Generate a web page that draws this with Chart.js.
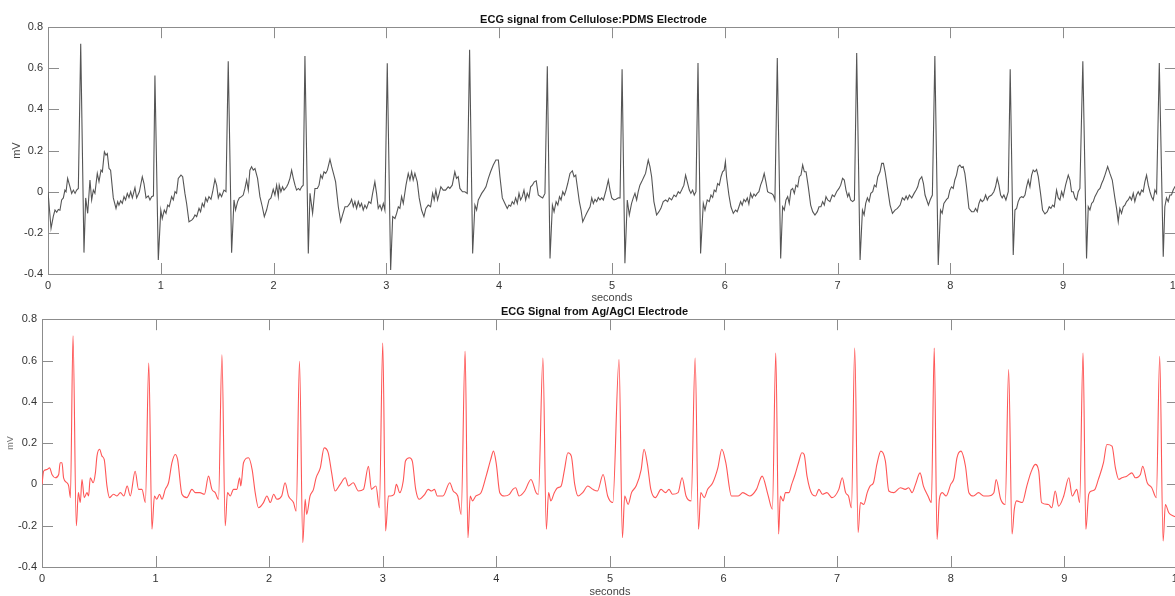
<!DOCTYPE html>
<html>
<head>
<meta charset="utf-8">
<script src="https://cdn.jsdelivr.net/npm/chart.js@4.4.1/dist/chart.umd.min.js"></script>
<style>
    html, body { margin: 0; padding: 0; background: #fff; width: 1175px; height: 596px; overflow: hidden; }
    #c1 { position: absolute; left: 0; top: 0; }
    #c2 { position: absolute; left: 0; top: 300px; }
</style>
</head>
<body>
<canvas id="c1" width="1187" height="305"></canvas>
<canvas id="c2" width="1189" height="300"></canvas>
<script>
// valores (segundos / mV)
var tempoCel = [
    0, 0.027, 0.047, 0.062, 0.077, 0.092, 0.106, 0.121, 0.136, 0.15,
    0.16, 0.174, 0.195, 0.21, 0.225, 0.24, 0.254, 0.269, 0.29, 0.319,
    0.334, 0.352, 0.372, 0.387, 0.402, 0.416, 0.437, 0.452, 0.47, 0.482,
    0.5, 0.514, 0.526, 0.541, 0.555, 0.579, 0.603, 0.618, 0.629, 0.644,
    0.659, 0.674, 0.688, 0.703, 0.718, 0.733, 0.748, 0.771, 0.786, 0.81,
    0.836, 0.851, 0.869, 0.889, 0.904, 0.919, 0.935, 0.948, 0.978, 1.0,
    1.013, 1.031, 1.046, 1.061, 1.075, 1.096, 1.111, 1.126, 1.14, 1.155,
    1.179, 1.194, 1.214, 1.229, 1.25, 1.274, 1.288, 1.303, 1.318, 1.339,
    1.353, 1.368, 1.383, 1.398, 1.412, 1.427, 1.445, 1.46, 1.48, 1.495,
    1.51, 1.524, 1.539, 1.56, 1.578, 1.598, 1.628, 1.649, 1.663, 1.681,
    1.696, 1.716, 1.731, 1.746, 1.761, 1.776, 1.79, 1.805, 1.82, 1.835,
    1.858, 1.879, 1.9, 1.918, 1.938, 1.959, 1.977, 1.997, 2.012, 2.027,
    2.042, 2.05, 2.065, 2.08, 2.092, 2.116, 2.13, 2.145, 2.16, 2.175,
    2.19, 2.204, 2.22, 2.234, 2.249, 2.263, 2.278, 2.308, 2.323, 2.346,
    2.367, 2.388, 2.403, 2.418, 2.432, 2.447, 2.462, 2.477, 2.5, 2.515,
    2.535, 2.55, 2.574, 2.595, 2.612, 2.633, 2.654, 2.677, 2.692, 2.707,
    2.721, 2.736, 2.751, 2.766, 2.78, 2.795, 2.81, 2.825, 2.845, 2.863,
    2.878, 2.898, 2.913, 2.928, 2.943, 2.958, 2.973, 2.987, 3.008, 3.038,
    3.056, 3.076, 3.091, 3.106, 3.12, 3.135, 3.15, 3.174, 3.194, 3.209,
    3.224, 3.238, 3.253, 3.274, 3.291, 3.312, 3.333, 3.35, 3.371, 3.392,
    3.41, 3.424, 3.439, 3.454, 3.469, 3.483, 3.504, 3.525, 3.548, 3.563,
    3.584, 3.607, 3.622, 3.637, 3.652, 3.675, 3.696, 3.717, 3.738, 3.765,
    3.785, 3.8, 3.815, 3.83, 3.845, 3.865, 3.883, 3.904, 3.924, 3.948,
    3.971, 3.993, 4.007, 4.028, 4.051, 4.072, 4.087, 4.102, 4.116, 4.131,
    4.146, 4.161, 4.176, 4.19, 4.205, 4.22, 4.235, 4.249, 4.264, 4.279,
    4.294, 4.311, 4.329, 4.347, 4.368, 4.386, 4.406, 4.427, 4.451, 4.472,
    4.487, 4.505, 4.52, 4.535, 4.549, 4.564, 4.579, 4.593, 4.608, 4.628,
    4.649, 4.664, 4.679, 4.693, 4.711, 4.726, 4.741, 4.762, 4.776, 4.791,
    4.806, 4.821, 4.835, 4.85, 4.865, 4.879, 4.894, 4.909, 4.924, 4.948,
    4.968, 4.983, 4.998, 5.018, 5.036, 5.057, 5.072, 5.09, 5.115, 5.136,
    5.154, 5.174, 5.189, 5.204, 5.219, 5.233, 5.248, 5.263, 5.284, 5.298,
    5.322, 5.337, 5.352, 5.372, 5.396, 5.417, 5.434, 5.455, 5.476, 5.494,
    5.508, 5.529, 5.55, 5.568, 5.588, 5.603, 5.618, 5.638, 5.653, 5.668,
    5.686, 5.7, 5.715, 5.73, 5.745, 5.763, 5.786, 5.81, 5.825, 5.845,
    5.863, 5.878, 5.893, 5.907, 5.922, 5.937, 5.952, 5.967, 5.981, 5.995,
    6.006, 6.016, 6.037, 6.055, 6.076, 6.096, 6.111, 6.126, 6.141, 6.155,
    6.17, 6.185, 6.2, 6.214, 6.229, 6.244, 6.259, 6.273, 6.288, 6.303,
    6.318, 6.335, 6.35, 6.365, 6.38, 6.395, 6.415, 6.43, 6.445, 6.466,
    6.496, 6.513, 6.528, 6.543, 6.558, 6.572, 6.587, 6.602, 6.617, 6.632,
    6.647, 6.661, 6.676, 6.691, 6.706, 6.721, 6.741, 6.762, 6.78, 6.8,
    6.821, 6.836, 6.853, 6.868, 6.883, 6.898, 6.913, 6.933, 6.954, 6.972,
    6.992, 7.013, 7.028, 7.045, 7.06, 7.075, 7.09, 7.101, 7.116, 7.134,
    7.15, 7.17, 7.2, 7.221, 7.236, 7.25, 7.265, 7.28, 7.295, 7.312,
    7.327, 7.342, 7.357, 7.377, 7.392, 7.407, 7.422, 7.446, 7.466, 7.487,
    7.51, 7.531, 7.555, 7.575, 7.593, 7.608, 7.622, 7.637, 7.658, 7.679,
    7.697, 7.711, 7.726, 7.747, 7.762, 7.776, 7.791, 7.806, 7.821, 7.841,
    7.863, 7.893, 7.913, 7.928, 7.943, 7.967, 7.981, 7.996, 8.011, 8.026,
    8.04, 8.055, 8.07, 8.085, 8.1, 8.114, 8.129, 8.144, 8.165, 8.189,
    8.209, 8.224, 8.239, 8.254, 8.268, 8.283, 8.298, 8.313, 8.328, 8.342,
    8.366, 8.386, 8.401, 8.416, 8.431, 8.446, 8.46, 8.475, 8.493, 8.514,
    8.531, 8.558, 8.573, 8.588, 8.602, 8.617, 8.632, 8.647, 8.662, 8.676,
    8.691, 8.706, 8.721, 8.735, 8.75, 8.765, 8.78, 8.8, 8.818, 8.839,
    8.86, 8.877, 8.892, 8.907, 8.922, 8.942, 8.957, 8.972, 8.987, 9.001,
    9.022, 9.046, 9.061, 9.075, 9.09, 9.105, 9.12, 9.134, 9.149, 9.175,
    9.208, 9.223, 9.238, 9.253, 9.267, 9.282, 9.297, 9.312, 9.327, 9.342,
    9.356, 9.371, 9.395, 9.415, 9.436, 9.459, 9.474, 9.489, 9.503, 9.518,
    9.533, 9.548, 9.563, 9.577, 9.592, 9.607, 9.622, 9.636, 9.651, 9.666,
    9.681, 9.696, 9.71, 9.725, 9.74, 9.755, 9.77, 9.784, 9.799, 9.814,
    9.829, 9.853, 9.888, 9.902, 9.917, 9.932, 9.947, 9.961, 9.976, 9.991,
    10];
var sinalCel = [
    0, -0.178, -0.12, -0.089, -0.1, -0.086, -0.09, -0.04, -0.03, 0.008,
    0, 0.065, 0.024, -0.008, 0.008, -0.008, 0.008, 0.016, 0.72, -0.296,
    -0.03, -0.105, 0.057, -0.04, 0.008, -0.008, 0.089, 0.049, 0.105, 0.097,
    0.194, 0.178, 0.186, 0.113, 0.105, -0.03, -0.081, -0.048, -0.065, -0.044,
    -0.057, -0.024, -0.04, -0.008, -0.028, 0, -0.03, 0.02, -0.03, 0,
    0.073, 0.04, -0.03, -0.02, -0.04, -0.024, -0.02, 0.565, -0.332, -0.089,
    -0.13, -0.089, -0.105, -0.065, -0.073, -0.024, -0.04, 0, -0.008, 0.065,
    0.081, 0.073, -0.008, -0.057, -0.146, -0.138, -0.13, -0.113, -0.121, -0.081,
    -0.097, -0.057, -0.073, -0.03, -0.048, -0.024, -0.037, 0, 0.06, 0.032,
    -0.03, -0.008, -0.024, 0.008, 0, 0.634, -0.297, -0.04, -0.089, -0.048,
    -0.03, -0.024, -0.016, 0.016, 0.057, 0.008, 0.105, 0.122, 0.105, 0.113,
    0.065, -0.024, -0.073, -0.121, -0.089, -0.04, -0.03, 0.012, -0.016, 0.032,
    -0.024, 0.032, 0, 0.024, 0.008, 0.024, 0.04, 0.065, 0.105, 0.065,
    0.032, 0.008, 0.016, 0.008, 0.024, 0.032, 0.66, -0.3, -0.008, -0.105,
    0.016, 0.016, 0.032, 0.081, 0.065, 0.097, 0.089, 0.105, 0.157, 0.122,
    0.081, 0.048, -0.073, -0.146, -0.113, -0.073, -0.073, -0.057, -0.037, -0.073,
    -0.048, -0.081, -0.048, -0.073, -0.057, -0.089, -0.065, -0.081, -0.048, -0.057,
    -0.008, 0.048, -0.008, -0.081, -0.065, -0.089, -0.057, -0.089, 0.625, -0.38,
    -0.121, -0.13, -0.105, -0.073, -0.081, -0.024, -0.057, 0.032, 0.089, 0.057,
    0.097, 0.057, 0.089, 0.048, -0.03, -0.089, -0.121, -0.081, -0.065, -0.073,
    -0.008, -0.04, 0.008, -0.04, -0.008, 0.024, 0.008, 0.008, 0.024, 0.016,
    0.032, 0.097, 0.065, 0.073, 0.016, 0, 0, -0.008, 0.69, -0.3,
    -0.065, -0.089, -0.04, -0.024, -0.008, 0.008, 0.024, 0.065, 0.097, 0.13,
    0.154, 0.154, 0.073, -0.03, -0.057, -0.081, -0.065, -0.07, -0.048, -0.06,
    -0.03, -0.057, -0.008, -0.04, -0.024, 0.008, -0.04, -0.008, -0.028, 0.024,
    0.032, 0.048, 0.053, -0.016, -0.024, -0.03, -0.008, 0.61, -0.324, -0.065,
    -0.097, -0.048, -0.065, -0.024, -0.04, 0, -0.016, 0.008, 0.04, 0.089,
    0.102, 0.073, 0.081, 0.024, -0.048, -0.089, -0.146, -0.121, -0.105, -0.089,
    -0.073, -0.03, -0.057, -0.037, -0.048, -0.028, -0.04, -0.03, -0.04, 0.008,
    0.057, 0.008, -0.03, -0.04, -0.037, -0.03, -0.03, 0.595, -0.348, -0.04,
    -0.113, -0.057, -0.03, -0.008, -0.04, 0, 0.032, 0.048, 0.073, 0.089,
    0.154, 0.122, 0.073, -0.048, -0.113, -0.097, -0.081, -0.048, -0.04, -0.048,
    -0.03, -0.04, -0.016, -0.024, 0, -0.008, 0.008, 0.032, 0.081, 0.048,
    0.008, -0.008, 0.008, -0.016, 0, 0.626, -0.3, -0.057, -0.089, -0.04,
    -0.048, -0.016, -0.028, 0.008, 0, 0.04, 0.032, 0.073, 0.097, 0.105,
    0.146, 0.073, -0.016, -0.073, -0.105, -0.089, -0.097, -0.073, -0.048, -0.065,
    -0.037, -0.048, -0.03, -0.06, -0.008, -0.03, -0.011, -0.021, -0.008, 0,
    0.032, 0.057, 0.089, 0.048, 0, -0.005, -0.008, -0.016, -0.04, 0.65,
    -0.324, -0.073, -0.089, -0.04, -0.024, -0.057, 0.008, 0.016, -0.008, 0.032,
    0.024, 0.073, 0.081, 0.13, 0.097, 0.097, 0.024, -0.065, -0.097, -0.113,
    -0.097, -0.073, -0.073, -0.048, -0.065, -0.024, -0.04, -0.048, -0.016, -0.024,
    0, 0.016, 0.032, 0.065, 0.057, 0.008, -0.024, -0.008, -0.04, -0.048,
    -0.04, 0.675, -0.332, -0.089, -0.113, -0.057, -0.03, -0.048, -0.008, 0,
    0.032, 0.024, 0.073, 0.097, 0.138, 0.138, 0.097, 0.008, -0.065, -0.105,
    -0.089, -0.081, -0.065, -0.03, -0.04, -0.021, -0.037, -0.016, -0.03, -0.008,
    0.008, 0.024, 0.057, 0.073, 0.04, -0.016, -0.04, -0.065, -0.04, -0.016,
    0.66, -0.356, -0.089, -0.105, -0.057, -0.037, -0.03, 0.008, 0.024, 0.016,
    0.057, 0.081, 0.122, 0.13, 0.118, 0.122, 0.089, 0.024, -0.081, -0.097,
    -0.097, -0.081, -0.097, -0.057, -0.037, -0.048, -0.04, -0.016, -0.04, -0.024,
    -0.016, 0, 0.024, 0.065, 0.032, -0.016, -0.03, -0.016, -0.04, 0,
    0.595, -0.308, -0.089, -0.081, -0.048, -0.03, -0.024, -0.028, -0.016, 0.024,
    0.057, 0.024, 0.081, 0.105, 0.097, 0.108, 0.073, -0.008, -0.089, -0.108,
    -0.097, -0.073, -0.081, -0.065, -0.073, 0.008, -0.03, -0.04, 0, -0.024,
    0.032, 0.081, 0.057, 0, 0, -0.03, -0.04, 0, 0.016, 0.634,
    -0.324, -0.073, -0.089, -0.057, -0.048, -0.024, -0.008, 0.008, 0.016, 0.04,
    0.057, 0.081, 0.122, 0.089, 0.057, -0.03, -0.081, -0.146, -0.081, -0.105,
    -0.073, -0.065, -0.048, -0.04, -0.024, -0.04, -0.008, -0.048, -0.016, 0,
    -0.016, 0.008, 0, 0.048, 0.081, 0.032, 0, -0.024, -0.04, 0.008,
    -0.008, 0.626, -0.316, -0.073, -0.03, -0.048, -0.016, -0.016, 0.008, 0.024,
    0.02];

var tempoAg = [0, 0.015, 0.044, 0.067, 0.088, 0.117, 0.147, 0.16, 0.176, 0.19, 0.22, 0.235, 0.25, 0.273, 0.302, 0.32, 0.337, 0.352, 0.372, 0.396,
    0.41, 0.425, 0.45, 0.47, 0.484, 0.507, 0.528, 0.548, 0.572, 0.595, 0.63, 0.66, 0.69, 0.72, 0.75, 0.777, 0.82, 0.85, 0.88, 0.91,
    0.94, 0.968, 0.99, 1.01, 1.035, 1.056, 1.085, 1.114, 1.144, 1.173, 1.194, 1.232, 1.275, 1.32, 1.35, 1.39, 1.43, 1.466, 1.496, 1.525,
    1.554, 1.584, 1.613, 1.633, 1.657, 1.686, 1.715, 1.74, 1.75, 1.774, 1.818, 1.85, 1.877, 1.906, 1.95, 1.98, 2.01, 2.04, 2.067, 2.11,
    2.14, 2.17, 2.214, 2.238, 2.267, 2.296, 2.317, 2.33, 2.36, 2.39, 2.413, 2.45, 2.484, 2.52, 2.55, 2.58, 2.625, 2.67, 2.698, 2.74,
    2.786, 2.83, 2.874, 2.9, 2.94, 2.97, 3.0, 3.025, 3.05, 3.07, 3.1, 3.12, 3.15, 3.18, 3.2, 3.235, 3.26, 3.29, 3.32, 3.37,
    3.4, 3.43, 3.455, 3.48, 3.53, 3.59, 3.62, 3.66, 3.69, 3.725, 3.75, 3.77, 3.79, 3.82, 3.865, 3.91, 3.95, 3.975, 4.0, 4.03,
    4.07, 4.115, 4.145, 4.17, 4.2, 4.25, 4.305, 4.35, 4.37, 4.41, 4.44, 4.46, 4.48, 4.51, 4.54, 4.57, 4.6, 4.63, 4.66, 4.69,
    4.72, 4.76, 4.805, 4.85, 4.89, 4.94, 4.98, 5.025, 5.08, 5.11, 5.13, 5.16, 5.19, 5.23, 5.275, 5.3, 5.33, 5.36, 5.4, 5.45,
    5.49, 5.52, 5.55, 5.6, 5.635, 5.67, 5.715, 5.75, 5.78, 5.8, 5.83, 5.86, 5.905, 5.95, 5.985, 6.02, 6.07, 6.13, 6.17, 6.23,
    6.29, 6.34, 6.39, 6.43, 6.46, 6.485, 6.5, 6.525, 6.545, 6.575, 6.6, 6.63, 6.66, 6.69, 6.71, 6.735, 6.78, 6.81, 6.84, 6.87,
    6.91, 6.955, 7.015, 7.045, 7.075, 7.1, 7.126, 7.155, 7.185, 7.205, 7.235, 7.265, 7.29, 7.32, 7.35, 7.385, 7.425, 7.455, 7.5, 7.557,
    7.6, 7.63, 7.66, 7.69, 7.73, 7.76, 7.8, 7.83, 7.855, 7.88, 7.9, 7.925, 7.96, 8.0, 8.03, 8.055, 8.09, 8.13, 8.16, 8.2,
    8.245, 8.29, 8.33, 8.38, 8.4, 8.44, 8.48, 8.51, 8.54, 8.56, 8.58, 8.63, 8.67, 8.705, 8.745, 8.775, 8.8, 8.86, 8.89, 8.92,
    8.95, 8.995, 9.04, 9.07, 9.11, 9.135, 9.165, 9.19, 9.215, 9.24, 9.27, 9.3, 9.345, 9.375, 9.42, 9.45, 9.48, 9.507, 9.55, 9.595,
    9.625, 9.67, 9.69, 9.73, 9.77, 9.81, 9.84, 9.87, 9.89, 9.92, 9.96, 10];
var sinalAg = [0, 0.065, 0.072, 0.08, 0.048, 0.032, 0.048, 0.105, 0.105, 0.032, 0.008, -0.008, -0.064, 0.72, -0.2, -0.04, -0.088, 0.024, -0.064, -0.04,
    -0.056, 0.032, 0.008, 0.056, 0.137, 0.17, 0.137, 0.12, -0.008, -0.064, -0.048, -0.056, -0.04, -0.056, -0.008, -0.056, 0.064, -0.024, -0.024, -0.088,
    0.588, -0.217, -0.056, -0.072, -0.048, -0.072, -0.024, 0.008, 0.105, 0.145, 0.12, -0.048, -0.064, -0.024, -0.04, -0.04, -0.048, 0.04, -0.024, -0.04,
    -0.072, 0.628, -0.2, -0.04, -0.056, -0.024, -0.024, 0.032, -0.008, 0.105, 0.129, 0.072, -0.04, -0.113, -0.088, -0.056, -0.088, -0.048, -0.072, -0.056,
    0.008, -0.056, -0.088, -0.129, 0.596, -0.282, -0.072, -0.145, -0.056, -0.024, 0.032, 0.08, 0.177, 0.153, 0.056, -0.032, 0, 0.032, -0.008, 0.008,
    -0.032, -0.024, 0.088, -0.024, -0.008, -0.113, 0.684, -0.225, -0.056, -0.056, -0.048, 0, -0.04, 0.016, 0.113, 0.129, 0.113, -0.024, -0.072, -0.048,
    -0.024, -0.032, -0.024, -0.056, -0.056, 0.008, -0.032, -0.056, -0.145, 0.644, -0.258, -0.056, -0.08, -0.056, -0.04, 0.04, 0.12, 0.161, 0.097, -0.04,
    -0.056, -0.048, -0.024, -0.016, -0.056, -0.032, 0.024, -0.04, -0.048, 0.612, -0.217, -0.04, -0.08, -0.04, -0.016, -0.008, 0.072, 0.153, 0.137, 0,
    -0.056, -0.04, -0.008, -0.024, -0.032, 0.048, -0.056, -0.088, 0.604, -0.258, -0.056, -0.097, -0.04, -0.008, 0.072, 0.17, 0.097, -0.024, -0.064, -0.024,
    -0.04, -0.024, -0.048, -0.04, 0.032, -0.056, -0.08, 0.612, -0.217, -0.04, -0.064, -0.024, 0.008, 0.08, 0.17, 0.105, -0.056, -0.056, -0.04, -0.056,
    -0.024, 0.04, -0.048, -0.12, 0.636, -0.24, -0.056, -0.08, -0.04, -0.04, 0, 0.048, 0.105, 0.153, 0.145, 0.04, -0.048, -0.056, -0.024, -0.048,
    -0.04, -0.064, -0.024, 0.032, -0.04, -0.056, -0.113, 0.66, -0.233, -0.088, -0.097, -0.04, -0.008, 0.008, 0.097, 0.161, 0.113, -0.032, -0.04, -0.016,
    -0.024, -0.016, -0.04, 0, 0.056, -0.008, -0.056, -0.088, 0.66, -0.266, -0.072, -0.04, -0.056, 0, 0.032, 0.129, 0.161, 0.088, -0.04, -0.056,
    -0.04, -0.056, -0.056, -0.04, 0.024, -0.072, -0.097, 0.556, -0.24, -0.12, -0.08, -0.088, -0.008, 0.056, 0.097, 0.064, -0.088, -0.097, -0.113, -0.032,
    -0.105, -0.056, 0.032, -0.056, -0.024, -0.088, 0.636, -0.217, -0.048, -0.032, -0.024, 0.024, 0.105, 0.193, 0.185, 0.08, 0.024, 0.032, 0.04, 0.056,
    0.032, 0.048, 0.088, 0.008, -0.016, -0.064, 0.62, -0.274, -0.097, -0.137, -0.153, -0.16];

var ticksX = [0, 1, 2, 3, 4, 5, 6, 7, 8, 9, 10];
var ticksY = [-0.4, -0.2, 0, 0.2, 0.4, 0.6, 0.8];

var fonte = "'Liberation Sans', Arial, Helvetica, sans-serif";

function pares(ts, vs) {
    var ret = [];
    for (var i = 0; i < ts.length; i++) {
        ret.push({ x: ts[i], y: vs[i] });
    }
    return ret;
}

// caixa estilo matlab com ticks para dentro
var caixa = {
    id: 'caixa',
    beforeDatasetsDraw: function(chart) {
        var ctx = chart.ctx;
        var a = chart.chartArea;
        var sx = chart.scales.x;
        var sy = chart.scales.y;
        ctx.save();
        ctx.strokeStyle = '#8c8c8c';
        ctx.lineWidth = 1;
        ctx.strokeRect(Math.round(a.left) + 0.5, Math.round(a.top) + 0.5, Math.round(a.right - a.left), Math.round(a.bottom - a.top));
        ctx.beginPath();
        sx.ticks.forEach(function(tk) {
            var x = Math.round(sx.getPixelForValue(tk.value)) + 0.5;
            ctx.moveTo(x, a.bottom);
            ctx.lineTo(x, a.bottom - 11);
            ctx.moveTo(x, a.top);
            ctx.lineTo(x, a.top + 11);
        });
        sy.ticks.forEach(function(tk) {
            var y = Math.round(sy.getPixelForValue(tk.value)) + 0.5;
            ctx.moveTo(a.left, y);
            ctx.lineTo(a.left + 11, y);
            ctx.moveTo(a.right, y);
            ctx.lineTo(a.right - 11, y);
        });
        ctx.stroke();
        ctx.restore();
    }
};

function grafico(id, titulo, ts, vs, cor, o) {
    new Chart(document.getElementById(id), {
        type: 'line',
        data: {
            datasets: [{
                data: pares(ts, vs),
                borderColor: cor,
                borderWidth: 1.1,
                pointRadius: 0,
                tension: 0,
                cubicInterpolationMode: o.modo,
                fill: false
            }]
        },
        options: {
            responsive: false,
            animation: false,
            events: [],
            layout: { padding: 0 },
            plugins: {
                legend: { display: false },
                tooltip: { enabled: false },
                title: {
                    display: true,
                    text: titulo,
                    color: '#111',
                    font: { family: fonte, size: 11, weight: 'bold' },
                    padding: { top: o.tituloTopo, bottom: o.tituloBase }
                }
            },
            scales: {
                x: {
                    type: 'linear',
                    min: 0,
                    max: 10,
                    afterBuildTicks: function(s) {
                        s.ticks = ticksX.map(function(v) { return { value: v }; });
                    },
                    afterFit: function(s) { s.height = o.alturaX; },
                    grid: { display: false, drawTicks: false },
                    border: { display: false },
                    ticks: { color: '#333', padding: 5, maxRotation: 0, autoSkip: false, font: { family: fonte, size: 11 } },
                    title: {
                        display: true,
                        text: 'seconds',
                        color: '#444',
                        font: { family: fonte, size: 11 },
                        padding: { top: 0, bottom: o.segBase }
                    }
                },
                y: {
                    min: -0.4,
                    max: 0.8,
                    afterBuildTicks: function(s) {
                        s.ticks = ticksY.map(function(v) { return { value: v }; });
                    },
                    afterFit: function(s) { s.width = o.larguraY; },
                    grid: { display: false, drawTicks: false },
                    border: { display: false },
                    ticks: {
                        color: '#333',
                        padding: 5,
                        font: { family: fonte, size: 11 },
                        callback: function(v) { return String(Number(v.toFixed(1))); }
                    },
                    title: {
                        display: true,
                        text: 'mV',
                        color: o.mvCor,
                        font: { family: fonte, size: o.mvTam },
                        padding: { top: o.mvPad, bottom: 0 }
                    }
                }
            }
        },
        plugins: [caixa]
    });
}

grafico('c1', 'ECG signal from Cellulose:PDMS Electrode', tempoCel, sinalCel, '#555555',
    { tituloTopo: 13, tituloBase: 1, alturaX: 31, segBase: 0.4, larguraY: 48, mvPad: 10, mvTam: 11, mvCor: '#444', modo: 'default' });
grafico('c2', 'ECG Signal from Ag/AgCl Electrode', tempoAg, sinalAg, '#ff5656',
    { tituloTopo: 5, tituloBase: 1, alturaX: 33, segBase: 1.4, larguraY: 42, mvPad: 5, mvTam: 9, mvCor: '#777', modo: 'monotone' });
</script>
</body>
</html>
